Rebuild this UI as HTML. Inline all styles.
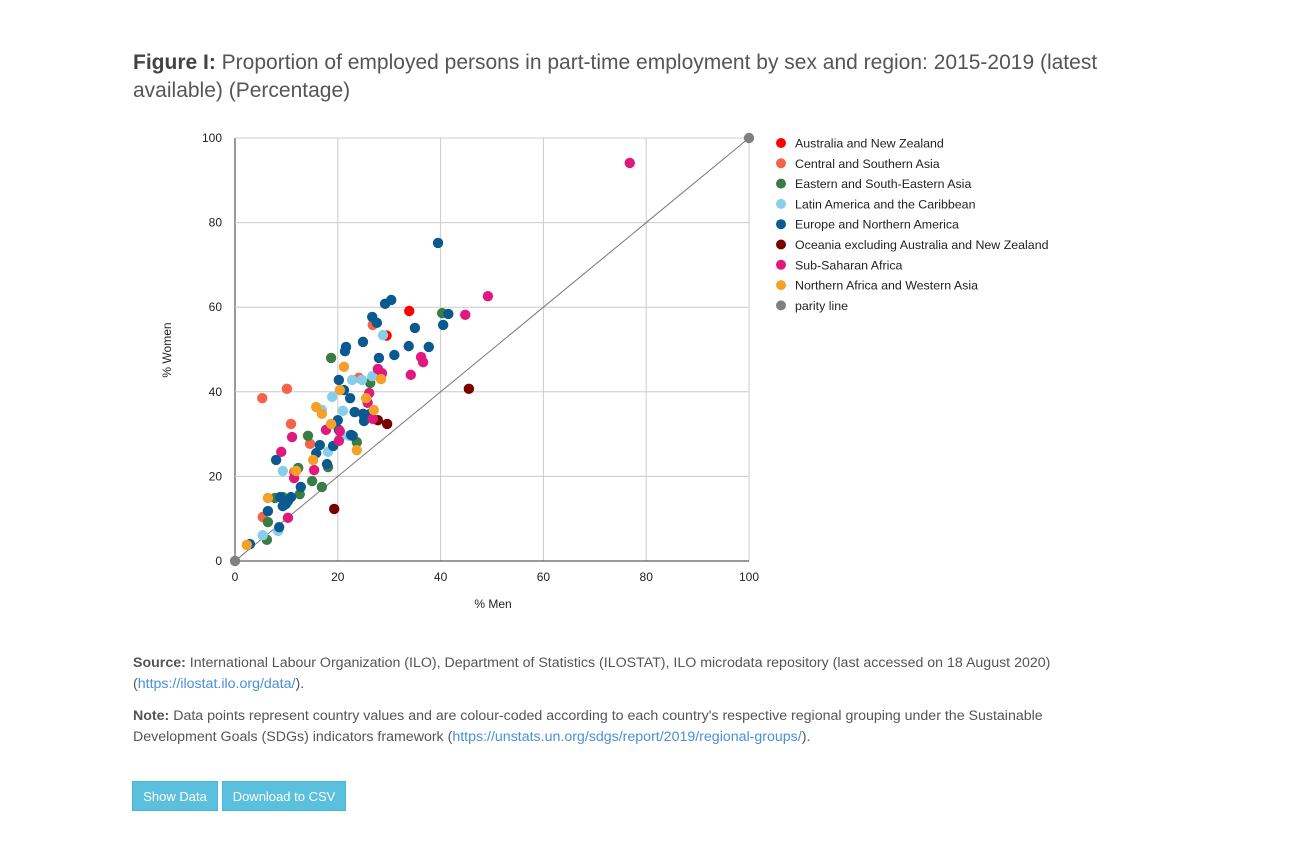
<!DOCTYPE html>
<html><head><meta charset="utf-8"><style>
body{margin:0;background:#fff;font-family:"Liberation Sans",sans-serif;color:#444;}
.wrap{position:relative;width:1295px;height:843px;}
#title{position:absolute;left:133px;top:49px;width:1040px;font-size:21px;line-height:28px;color:#555;}
#title b{color:#444;}
.note{position:absolute;left:133px;width:1030px;font-size:14.2px;line-height:21px;color:#555;}
.note a{color:#4a90d9;text-decoration:none;}
.btn{position:absolute;top:781px;height:30px;line-height:30px;background:#5bc0de;color:#fff;font-size:13px;text-align:center;border:1px solid #46b8da;box-sizing:border-box;}
svg text{font-family:"Liberation Sans",sans-serif;}
</style></head><body><div class="wrap">
<div id="title"><b>Figure I:</b> Proportion of employed persons in part-time employment by sex and region: 2015-2019 (latest available) (Percentage)</div>
<svg id="chart" width="1295" height="640" style="position:absolute;left:0;top:0"></svg>
<div class="note" style="top:653px"><b>Source:</b> International Labour Organization (ILO), Department of Statistics (ILOSTAT), ILO microdata repository (last accessed on 18 August 2020) (<a>https://ilostat.ilo.org/data/</a>).</div>
<div class="note" style="top:706px;width:975px"><b>Note:</b> Data points represent country values and are colour-coded according to each country's respective regional grouping under the Sustainable Development Goals (SDGs) indicators framework (<a>https://unstats.un.org/sdgs/report/2019/regional-groups/</a>).</div>
<div class="btn" style="left:132px;width:86px">Show Data</div>
<div class="btn" style="left:222px;width:124px">Download to CSV</div>
</div>
<script>
const seriesNames=["Australia and New Zealand","Central and Southern Asia","Eastern and South-Eastern Asia","Latin America and the Caribbean","Europe and Northern America","Oceania excluding Australia and New Zealand","Sub-Saharan Africa","Northern Africa and Western Asia","parity line"];
const seriesColors=["#ff0000","#f4634a","#3a7d44","#87ceeb","#0b5a8f","#7a0000","#e0197e","#f5a02a","#808080"];
const ausNz=[[33.9,59.1],[29.5,53.3]];
const csAsia=[[5.3,38.5],[10.1,40.7],[10.9,32.4],[26.8,55.8],[24.1,43.3],[14.6,27.7],[5.4,10.4],[11.5,21]];
const esAsia=[[18.7,48],[40.3,58.6],[26.3,42.1],[14.2,29.6],[23.7,28.1],[18.1,22.2],[16.9,17.5],[15,18.9],[12.6,15.8],[6.2,5],[6.4,9.2],[7.8,14.9],[9.3,15.1],[12.3,22]];
const latAm=[[28.8,53.4],[26.7,43.7],[22.8,42.8],[24.7,42.8],[21,35.5],[18.9,38.8],[16.9,35.7],[18.1,25.8],[9.3,21.3],[9.3,13],[5.4,6.1],[8.4,7.1],[22.2,29.6],[23.2,35.2],[20.4,29.1]];
const europeNA=[[39.5,75.2],[30.4,61.7],[29.2,60.8],[26.7,57.7],[27.6,56.3],[35,55.1],[40.5,55.8],[41.5,58.4],[24.9,51.8],[21.6,50.6],[21.4,49.6],[31,48.7],[28,48],[33.8,50.8],[37.7,50.6],[20.2,42.8],[21.2,40.4],[22.4,38.5],[24.9,34.8],[23.3,35.2],[26.3,34.8],[25.1,33.1],[20,33.3],[20.2,31],[22.6,29.8],[22.9,29.6],[16.5,27.4],[19.1,27.2],[17.9,22.9],[15.8,25.5],[12.8,17.5],[10.9,15.1],[9.9,13.5],[9.3,13],[8.8,15.1],[8,23.9],[6.4,11.8],[8.6,8],[2.9,4],[10.3,14.2]];
const oceania=[[45.5,40.7],[29.6,32.4],[27.8,33.3],[19.3,12.3]];
const ssAfrica=[[76.8,94.1],[49.2,62.6],[44.8,58.2],[36.2,48.2],[36.6,47],[34.2,44],[28.6,44.4],[27.8,45.4],[26.1,39.7],[25.8,37.4],[26.8,33.6],[20.4,30.7],[17.7,31],[20.2,28.4],[11.1,29.3],[9,25.8],[15.4,21.5],[11.5,19.6],[10.3,10.2]];
const naWAsia=[[21.2,45.9],[28.4,43],[25.5,38.5],[20.4,40.4],[15.8,36.4],[16.9,34.8],[18.7,32.4],[27,35.7],[23.7,26.2],[15.2,23.9],[11.9,21.3],[6.4,14.9],[2.3,3.8]];
const parity=[[0,0],[100,100]];
const allSeries=[ausNz,csAsia,esAsia,latAm,europeNA,oceania,ssAfrica,naWAsia,parity];
const xTicks=[0,20,40,60,80,100];
const yTicks=[0,20,40,60,80,100];
const X0=235,X1=749,Y0=561,Y1=138;
const sx=v=>X0+(X1-X0)*v/100, sy=v=>Y0-(Y0-Y1)*v/100;
const svg=document.getElementById('chart');const NS='http://www.w3.org/2000/svg';
function mk(t,a,p){const e=document.createElementNS(NS,t);for(const k in a)e.setAttribute(k,a[k]);(p||svg).appendChild(e);return e;}
xTicks.forEach(t=>{const l=mk('line',{x1:sx(t),x2:sx(t),y1:Y1,y2:Y0,stroke:t?'#ccc':'#333','stroke-width':1});


const tx=mk('text',{x:sx(t),y:Y0+20,'text-anchor':'middle','font-size':12,fill:'#222'});tx.textContent=t;

});
yTicks.forEach(t=>{const l=mk('line',{x1:X0,x2:X1,y1:sy(t),y2:sy(t),stroke:t?'#ccc':'#333','stroke-width':1});


const tx=mk('text',{x:X0-13,y:sy(t)+4,'text-anchor':'end','font-size':12,fill:'#222'});tx.textContent=t;

});
const xt=mk('text',{x:493,y:608,'text-anchor':'middle','font-size':12,fill:'#222'});xt.textContent='% Men';


const yt=mk('text',{x:171,y:350,'text-anchor':'middle','font-size':12,fill:'#222',transform:'rotate(-90 171 350)'});yt.textContent='% Women';


const pl=mk('line',{x1:sx(parity[0][0]),y1:sy(parity[0][1]),x2:sx(parity[1][0]),y2:sy(parity[1][1]),stroke:'#777','stroke-width':1});


allSeries.forEach((s,i)=>{s.forEach(p=>{const c=mk('circle',{cx:sx(p[0]),cy:sy(p[1]),r:5.2,fill:seriesColors[i]});

});});
seriesNames.forEach((n,i)=>{const y=143+i*20.3;const c=mk('circle',{cx:781,cy:y,r:5,fill:seriesColors[i]});


const t=mk('text',{x:795,y:y+4.5,'font-size':12.4,fill:'#222'});t.textContent=n;

});
</script></body></html>
